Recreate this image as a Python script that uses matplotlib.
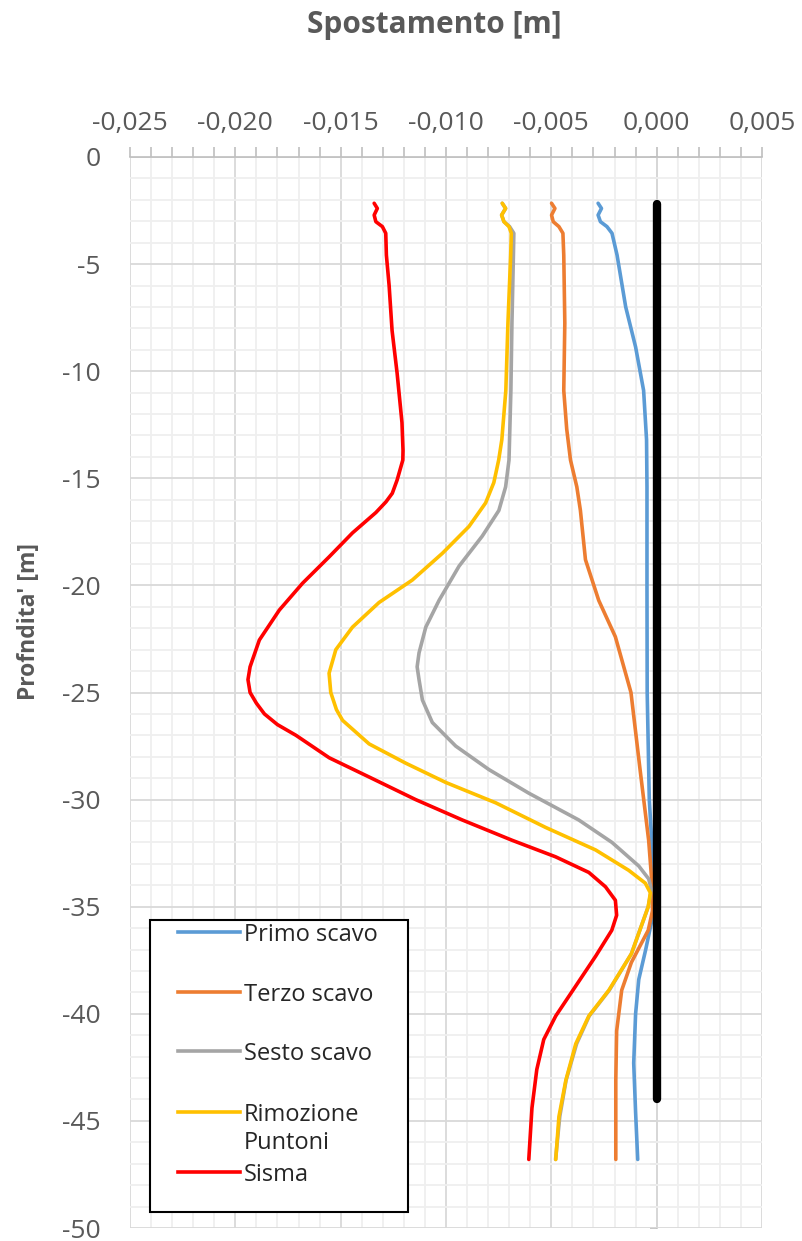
import matplotlib
matplotlib.use("Agg")
import matplotlib.pyplot as plt
from matplotlib.ticker import MultipleLocator, FuncFormatter
from matplotlib.patches import Rectangle
from matplotlib.lines import Line2D

# ---- data: horizontal displacement [m] vs depth [m] ----
primo_depth = [-2.16, -2.40, -2.71, -3.02, -3.25, -3.56, -4.58, -7.0, -8.87, -10.9, -13.2,
               -15.4, -20.0, -25.0, -30.0, -34.2, -35.5, -37.0, -38.4, -40.0, -42.3, -44.6, -46.8]
primo_disp = [-0.00278, -0.00262, -0.00278, -0.00267, -0.00236, -0.00212, -0.00188, -0.00147,
              -0.001, -0.00062, -0.00048, -0.00046, -0.00046, -0.00045, -0.00035, -0.0001,
              -0.0002, -0.00052, -0.00085, -0.001, -0.00109, -0.001, -0.0009]

terzo_depth = [-2.16, -2.40, -2.71, -3.02, -3.25, -3.56, -4.58, -7.75, -10.9, -12.7, -14.15,
               -15.4, -16.5, -18.8, -20.7, -22.4, -25.0, -28.5, -31.9, -34.2, -35.2, -36.1,
               -37.6, -38.9, -40.8, -43.1, -46.8]
terzo_disp = [-0.00499, -0.00483, -0.00499, -0.00491, -0.00464, -0.00445, -0.00441, -0.00436,
              -0.00441, -0.00427, -0.00409, -0.00379, -0.00362, -0.00338, -0.00275, -0.00196,
              -0.00122, -0.0008, -0.00038, -0.0002, -0.0002, -0.0004, -0.0012, -0.00166,
              -0.0019, -0.00194, -0.00194]

sesto_depth = [-2.16, -2.40, -2.71, -3.02, -3.25, -3.56, -4.58, -7.75, -10.9, -14.15, -15.4,
               -16.5, -17.7, -19.1, -20.7, -21.95, -23.15, -23.8, -24.4, -25.35, -26.4, -27.5,
               -28.6, -29.7, -30.95, -32.0, -33.1, -33.7, -34.2, -35.0, -36.1, -37.2, -38.9,
               -40.1, -41.4, -43.1, -44.8, -46.8]
sesto_disp = [-0.00733, -0.00717, -0.00736, -0.00725, -0.00698, -0.00678, -0.0068, -0.00687,
              -0.00692, -0.00701, -0.00717, -0.00749, -0.00828, -0.00938, -0.01033, -0.01096,
              -0.01128, -0.01137, -0.01128, -0.01112, -0.01065, -0.00954, -0.00796, -0.00607,
              -0.0037, -0.00212, -0.00085, -0.00038, -0.00025, -0.0004, -0.0008, -0.0012,
              -0.00225, -0.0032, -0.0038, -0.0043, -0.0046, -0.0048]

rimozione_depth = [-2.16, -2.40, -2.71, -3.02, -3.25, -3.56, -4.58, -7.75, -10.9, -13.2, -14.15,
                   -15.2, -16.15, -17.25, -18.5, -19.75, -20.8, -21.95, -23.0, -24.1, -25.0,
                   -25.8, -26.3, -27.4, -28.3, -29.2, -30.15, -31.3, -32.35, -33.3, -33.9,
                   -34.35, -35.0, -36.1, -37.2, -38.9, -40.1, -41.4, -43.1, -44.8, -46.8]
rimozione_disp = [-0.00733, -0.00717, -0.00736, -0.00725, -0.00701, -0.0069, -0.00693, -0.00706,
                  -0.00716, -0.00735, -0.0075, -0.00773, -0.00812, -0.00891, -0.01017, -0.0116,
                  -0.01318, -0.01444, -0.01523, -0.01555, -0.01547, -0.0152, -0.01491, -0.01365,
                  -0.01191, -0.01001, -0.00764, -0.00527, -0.0029, -0.00133, -0.00054, -0.0003,
                  -0.0004, -0.0008, -0.0012, -0.00227, -0.00322, -0.00384, -0.00431, -0.00464,
                  -0.00479]

sisma_depth = [-2.16, -2.40, -2.71, -3.02, -3.25, -3.56, -4.58, -6.0, -8.1, -10.1, -12.4, -13.7,
               -14.15, -15.08, -15.7, -16.1, -16.6, -17.55, -18.67, -19.9, -21.15, -22.55, -23.8,
               -24.4, -25.0, -25.5, -26.0, -26.5, -27.0, -28.05, -28.95, -30.0, -30.95, -31.9,
               -32.67, -33.4, -34.07, -34.7, -35.4, -36.1, -37.3, -38.7, -40.1, -41.2, -42.6,
               -44.4, -46.8]
sisma_disp = [-0.01341, -0.01326, -0.01341, -0.01333, -0.01302, -0.01286, -0.01283, -0.0127,
              -0.01256, -0.01232, -0.01209, -0.01204, -0.01205, -0.01232, -0.01255, -0.01285,
              -0.01333, -0.01444, -0.01555, -0.01681, -0.01791, -0.01886, -0.0193, -0.0194,
              -0.0193, -0.019, -0.01862, -0.018, -0.01712, -0.01554, -0.01364, -0.01144,
              -0.00923, -0.00686, -0.0048, -0.00322, -0.00243, -0.00196, -0.0019, -0.00213,
              -0.00289, -0.00384, -0.00479, -0.00536, -0.00569, -0.00592, -0.00607]

# diaphragm wall
wall_depth = [-2.2, -44.0]
wall_disp = [0.0, 0.0]

series_names = ["Primo scavo", "Terzo scavo", "Sesto scavo", "Rimozione\nPuntoni", "Sisma"]
series_colors = ["#5B9BD5", "#ED7D31", "#A5A5A5", "#FFC000", "#FF0000"]
series_depths = [primo_depth, terzo_depth, sesto_depth, rimozione_depth, sisma_depth]
series_disps = [primo_disp, terzo_disp, sesto_disp, rimozione_disp, sisma_disp]

x_min, x_max = -0.025, 0.005
y_min, y_max = -50, 0

plt.rcParams['font.family'] = ['Open Sans', 'DejaVu Sans']

W, H = 802, 1241
fig = plt.figure(figsize=(W / 100, H / 100), dpi=100)
L, R, T, B = 130, 762, 157, 1228
ax = fig.add_axes([L / W, 1 - B / H, (R - L) / W, (B - T) / H])

ax.set_xlim(x_min, x_max)
ax.set_ylim(y_min, y_max)

ax.xaxis.set_major_locator(MultipleLocator(0.005))
ax.xaxis.set_minor_locator(MultipleLocator(0.001))
ax.yaxis.set_major_locator(MultipleLocator(5))
ax.yaxis.set_minor_locator(MultipleLocator(1))


def fmt_x(v, pos):
    s = f"{v:.3f}".replace(".", ",")
    return "0,000" if s == "-0,000" else s


def fmt_y(v, pos):
    s = f"{v:.0f}"
    return "0" if s == "-0" else s


ax.xaxis.set_major_formatter(FuncFormatter(fmt_x))
ax.yaxis.set_major_formatter(FuncFormatter(fmt_y))

ax.grid(which='major', color='#d9d9d9', lw=1.3, zorder=0)
ax.grid(which='minor', color='#efefef', lw=1.3, zorder=0)
ax.set_axisbelow(True)

for s in ['left', 'right', 'bottom']:
    ax.spines[s].set_visible(False)
ax.spines['top'].set_color('#bfbfbf')
ax.spines['top'].set_linewidth(1.2)

ax.xaxis.tick_top()
ax.tick_params(axis='x', which='both', direction='out', length=7, width=1.2, color='#bfbfbf',
               labelsize=19, labelcolor='#595959', pad=8)
ax.tick_params(axis='y', which='both', length=0, labelsize=19, labelcolor='#595959', pad=21)

# vertical axis line at zero displacement with minor ticks
loc = (0 - x_min) / (x_max - x_min)
sec = ax.secondary_yaxis(loc)
sec.yaxis.set_major_locator(MultipleLocator(1))
sec.tick_params(axis='y', which='both', left=True, right=False, labelleft=False, labelright=False,
                length=5, width=1.2, color='#bfbfbf', direction='out')
for s in sec.spines.values():
    s.set_color('#bfbfbf')
    s.set_linewidth(1.2)

for name, col, d, v in zip(series_names, series_colors, series_depths, series_disps):
    ax.plot(v, d, color=col, lw=2.6, solid_capstyle='round', solid_joinstyle='round', zorder=3)

ax.plot(wall_disp, wall_depth, color='black', lw=6, solid_capstyle='round', zorder=4)


# legend box
def fx(px):
    return (px - L) / (R - L)


def fy(py):
    return (B - py) / (B - T)


ax.add_patch(Rectangle((fx(150), fy(1212)), fx(408) - fx(150), fy(920) - fy(1212),
                       transform=ax.transAxes, facecolor='white', edgecolor='black', lw=1.5,
                       zorder=6, clip_on=False))
row_y = [932, 992, 1051, 1112, 1172]
for name, col, py in zip(series_names, series_colors, row_y):
    ax.add_line(Line2D([fx(178), fx(240)], [fy(py), fy(py)], transform=ax.transAxes,
                       color=col, lw=2.6, zorder=7, clip_on=False))
    for k, line in enumerate(name.split("\n")):
        ax.text(fx(244), fy(py + 9 + 28 * k), line, transform=ax.transAxes, fontsize=17,
                color='#262626', va='baseline', ha='left', zorder=8)

fig.text(434 / W, 1 - 25 / H, "Spostamento [m]", ha='center', va='center', fontsize=21.5,
         fontweight='bold', color='#595959')
fig.text(29 / W, 1 - 621 / H, "Profndita' [m]", ha='center', va='center', fontsize=16.5,
         fontweight='bold', color='#595959', rotation=90)

fig.savefig("out.png", dpi=100, facecolor='white')
